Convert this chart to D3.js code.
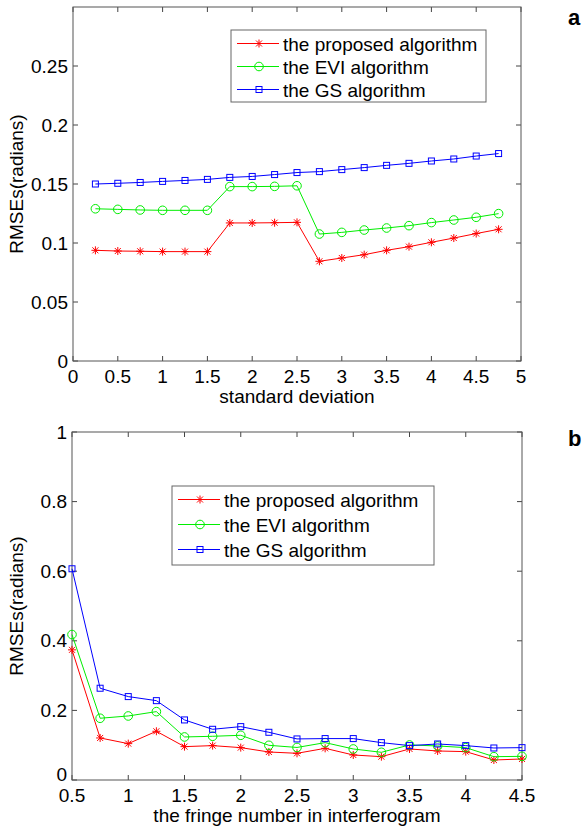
<!DOCTYPE html>
<html>
<head>
<meta charset="utf-8">
<script src="https://cdn.jsdelivr.net/npm/d3@7/dist/d3.min.js"></script>
<style>
  html, body { margin: 0; padding: 0; background: #fff; }
  svg { display: block; }
  text { font-family: Arial, "Liberation Sans", Helvetica, sans-serif; fill: #000; }
</style>
</head>
<body>
<svg id="fig" width="587" height="826"></svg>
<script>
// Panel a: RMSE versus noise standard deviation
const sdValues = [0.25, 0.5, 0.75, 1.0, 1.25, 1.5, 1.75, 2.0, 2.25, 2.5, 2.75, 3.0, 3.25, 3.5, 3.75, 4.0, 4.25, 4.5, 4.75];
const proposedA = [0.0938, 0.0932, 0.0930, 0.0927, 0.0927, 0.0927, 0.1170, 0.1170, 0.1172, 0.1175, 0.0845, 0.0873, 0.0901, 0.0938, 0.0969, 0.1006, 0.1042, 0.1080, 0.1116];
const eviA      = [0.1290, 0.1285, 0.1280, 0.1277, 0.1277, 0.1277, 0.1478, 0.1478, 0.1480, 0.1485, 0.1076, 0.1090, 0.1110, 0.1127, 0.1147, 0.1173, 0.1195, 0.1218, 0.1249];
const gsA       = [0.1500, 0.1506, 0.1513, 0.1522, 0.1530, 0.1539, 0.1556, 0.1564, 0.1580, 0.1597, 0.1605, 0.1622, 0.1639, 0.1658, 0.1675, 0.1695, 0.1712, 0.1737, 0.1758];
const xTicksA = [0, 0.5, 1, 1.5, 2, 2.5, 3, 3.5, 4, 4.5, 5];
const yTicksA = [0, 0.05, 0.1, 0.15, 0.2, 0.25];

// Panel b: RMSE versus fringe number in the interferogram
const fringeValues = [0.5, 0.75, 1.0, 1.25, 1.5, 1.75, 2.0, 2.25, 2.5, 2.75, 3.0, 3.25, 3.5, 3.75, 4.0, 4.25, 4.5];
const proposedB = [0.374, 0.1208, 0.1045, 0.140, 0.0959, 0.0988, 0.093, 0.0805, 0.0767, 0.091, 0.0719, 0.067, 0.0892, 0.0834, 0.0815, 0.0575, 0.0604];
const eviB      = [0.418, 0.1774, 0.184, 0.1965, 0.1237, 0.1256, 0.1285, 0.0997, 0.0935, 0.1074, 0.0892, 0.0796, 0.1007, 0.0978, 0.093, 0.067, 0.068];
const gsB       = [0.607, 0.2637, 0.2397, 0.228, 0.1726, 0.1457, 0.1534, 0.1371, 0.118, 0.119, 0.119, 0.1074, 0.0988, 0.1035, 0.0988, 0.092, 0.093];
const xTicksB = [0.5, 1, 1.5, 2, 2.5, 3, 3.5, 4, 4.5];
const yTicksB = [0, 0.2, 0.4, 0.6, 0.8, 1];

const seriesNames = ["the proposed algorithm", "the EVI algorithm", "the GS algorithm"];
const seriesColors = ["#ff0000", "#00ee00", "#0000ff"];
const seriesMarkers = ["star", "circle", "square"];

const svg = d3.select("#fig");
const FONT = 19;

function drawMarker(g, type, color) {
  if (type === "star") {
    const s = 4, d = 3;
    g.append("path")
      .attr("d", `M${-s},0H${s}M0,${-s}V${s}M${-d},${-d}L${d},${d}M${-d},${d}L${d},${-d}`)
      .attr("stroke", color).attr("stroke-width", 1).attr("fill", "none");
  } else if (type === "circle") {
    g.append("circle").attr("r", 4.3)
      .attr("stroke", color).attr("stroke-width", 1).attr("fill", "none");
  } else {
    g.append("rect").attr("x", -3).attr("y", -3).attr("width", 6).attr("height", 6)
      .attr("stroke", color).attr("stroke-width", 1).attr("fill", "none");
  }
}

function panel(opts) {
  const { xs, series, xDomain, yDomain, xRange, yRange, xTicks, yTicks, xLabel, legend, tag, cornerLift } = opts;
  const x = d3.scaleLinear().domain(xDomain).range(xRange);
  const y = d3.scaleLinear().domain(yDomain).range(yRange);
  const g = svg.append("g");
  const fmt = v => d3.format("~g")(+v.toFixed(4));

  // inward ticks on all four sides
  const tl = 5;
  const axisColor = "#444";
  xTicks.forEach(t => {
    g.append("line").attr("x1", x(t)).attr("x2", x(t)).attr("y1", yRange[0]).attr("y2", yRange[0] - tl).attr("stroke", axisColor);
    g.append("line").attr("x1", x(t)).attr("x2", x(t)).attr("y1", yRange[1]).attr("y2", yRange[1] + tl).attr("stroke", axisColor);
    g.append("text").attr("x", x(t)).attr("y", yRange[0] + 22)
      .attr("text-anchor", "middle").attr("font-size", FONT).text(fmt(t));
  });
  yTicks.forEach(t => {
    g.append("line").attr("x1", xRange[0]).attr("x2", xRange[0] + tl).attr("y1", y(t)).attr("y2", y(t)).attr("stroke", axisColor);
    g.append("line").attr("x1", xRange[1]).attr("x2", xRange[1] - tl).attr("y1", y(t)).attr("y2", y(t)).attr("stroke", axisColor);
    // the lowest label sits just above the first x label in the corner
    const lift = (t === yDomain[0] && cornerLift) ? cornerLift : 0;
    g.append("text").attr("x", xRange[0] - 5).attr("y", y(t) + 6.5 - lift)
      .attr("text-anchor", "end").attr("font-size", FONT).text(fmt(t));
  });
  // axes box
  g.append("rect")
    .attr("x", xRange[0]).attr("y", yRange[1])
    .attr("width", xRange[1] - xRange[0]).attr("height", yRange[0] - yRange[1])
    .attr("fill", "none").attr("stroke", "#555").attr("stroke-width", 1);

  // series lines and markers
  series.forEach((vals, i) => {
    const pts = xs.map((xv, k) => [xv, vals[k]]);
    g.append("path")
      .attr("d", d3.line().x(d => x(d[0])).y(d => y(d[1]))(pts))
      .attr("fill", "none").attr("stroke", seriesColors[i]).attr("stroke-width", 1);
    pts.forEach(p => {
      const m = g.append("g").attr("transform", `translate(${x(p[0])},${y(p[1])})`);
      drawMarker(m, seriesMarkers[i], seriesColors[i]);
    });
  });

  // axis labels
  g.append("text").attr("x", (xRange[0] + xRange[1]) / 2).attr("y", yRange[0] + 42)
    .attr("text-anchor", "middle").attr("font-size", FONT).text(xLabel);
  const cy = (yRange[0] + yRange[1]) / 2;
  g.append("text").attr("transform", `translate(23,${cy}) rotate(-90)`)
    .attr("text-anchor", "middle").attr("font-size", FONT).text("RMSEs(radians)");

  // legend
  const lg = g.append("g");
  lg.append("rect").attr("x", legend.x).attr("y", legend.y).attr("width", legend.w).attr("height", legend.h)
    .attr("fill", "#fff").attr("stroke", "#666").attr("stroke-width", 1);
  seriesNames.forEach((name, i) => {
    const ry = legend.y + 13.5 + i * legend.step;
    lg.append("line").attr("x1", legend.x + 6).attr("x2", legend.x + 48).attr("y1", ry).attr("y2", ry)
      .attr("stroke", seriesColors[i]).attr("stroke-width", 1);
    const m = lg.append("g").attr("transform", `translate(${legend.x + 28},${ry})`);
    drawMarker(m, seriesMarkers[i], seriesColors[i]);
    lg.append("text").attr("x", legend.x + 52).attr("y", ry + 7).attr("font-size", FONT).text(name);
  });

  // panel tag
  svg.append("text").attr("x", tag.x).attr("y", tag.y).attr("font-size", 22)
    .attr("font-weight", "bold").text(tag.text);
}

panel({
  xs: sdValues, series: [proposedA, eviA, gsA],
  xDomain: [0, 5], yDomain: [0, 0.3],
  xRange: [73, 521], yRange: [361, 7],
  xTicks: xTicksA, yTicks: yTicksA,
  xLabel: "standard deviation",
  legend: { x: 231, y: 30, w: 255, h: 72, step: 23 },
  tag: { x: 568, y: 25, text: "a" }
});

panel({
  xs: fringeValues, series: [proposedB, eviB, gsB],
  xDomain: [0.5, 4.5], yDomain: [0, 1],
  xRange: [72, 522], yRange: [780, 432],
  xTicks: xTicksB, yTicks: yTicksB,
  xLabel: "the fringe number in interferogram",
  legend: { x: 172, y: 486, w: 262, h: 79, step: 25 },
  tag: { x: 568, y: 446, text: "b" },
  cornerLift: 6
});
</script>
</body>
</html>
